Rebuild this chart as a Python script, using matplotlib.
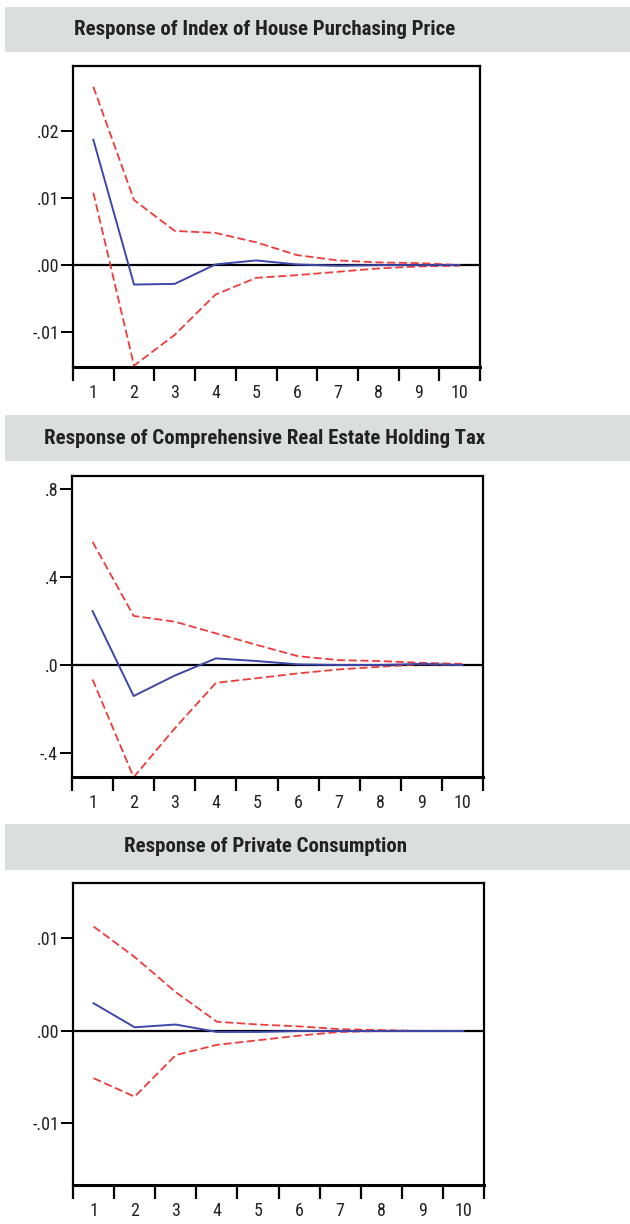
import numpy as np
import matplotlib
matplotlib.use("Agg")
import matplotlib.pyplot as plt
from matplotlib import font_manager
from matplotlib.patches import Rectangle

# pick a condensed face if there is one
names = {f.name for f in font_manager.fontManager.ttflist}
font = "Roboto"
for cand in ["Roboto Condensed", "Liberation Sans Narrow", "Roboto"]:
    if cand in names:
        font = cand
        break
plt.rcParams["font.family"] = [font, "DejaVu Sans"]

periods = [1, 2, 3, 4, 5, 6, 7, 8, 9, 10]

titles = [
    "Response of Index of House Purchasing Price",
    "Response of Comprehensive Real Estate Holding Tax",
    "Response of Private Consumption",
]

# impulse responses with +/- 2 S.E. bands
resp_price = [0.0187, -0.0029, -0.0028, 0.0001, 0.0007, 0.0001, -0.0001, 0.0, 0.0, 0.0]
upper_price = [0.0266, 0.0097, 0.0051, 0.0048, 0.0034, 0.0015, 0.0007, 0.0004, 0.0003, 0.0]
lower_price = [0.0108, -0.0150, -0.0104, -0.0044, -0.0019, -0.0015, -0.0010, -0.0005, -0.0002, -0.0001]

resp_tax = [0.245, -0.141, -0.048, 0.030, 0.018, 0.003, 0.0, 0.0, 0.005, 0.0]
upper_tax = [0.56, 0.223, 0.197, 0.144, 0.091, 0.040, 0.022, 0.018, 0.010, 0.005]
lower_tax = [-0.066, -0.51, -0.288, -0.081, -0.060, -0.038, -0.020, -0.008, 0.003, 0.0]

resp_cons = [0.0030, 0.0004, 0.0007, -0.0001, -0.0001, 0.0, 0.0, 0.0, 0.0, 0.0]
upper_cons = [0.0113, 0.0080, 0.0042, 0.0010, 0.0007, 0.0005, 0.0002, 0.0001, 0.0, 0.0]
lower_cons = [-0.0051, -0.0071, -0.0026, -0.0015, -0.0010, -0.0005, -0.0001, 0.0, 0.0, 0.0]

yticks_price = [-0.01, 0.0, 0.01, 0.02]
ylabels_price = ["-.01", ".00", ".01", ".02"]
yticks_tax = [-0.4, 0.0, 0.4, 0.8]
ylabels_tax = ["-.4", ".0", ".4", ".8"]
yticks_cons = [-0.01, 0.0, 0.01]
ylabels_cons = ["-.01", ".00", ".01"]

panels = [
    (resp_price, upper_price, lower_price, yticks_price, ylabels_price, (-0.0152, 0.0297)),
    (resp_tax, upper_tax, lower_tax, yticks_tax, ylabels_tax, (-0.509, 0.859)),
    (resp_cons, upper_cons, lower_cons, yticks_cons, ylabels_cons, (-0.01665, 0.0160)),
]

W, H = 630, 1224
fig = plt.figure(figsize=(W / 100, H / 100), dpi=100)

# pixel boxes: axes (left, top, right, bottom) and title bar (top, bottom)
ax_boxes = [(73, 66, 480, 367), (72, 476, 483, 777), (73, 883, 484, 1185)]
bar_boxes = [(7, 52), (415, 461), (824, 870)]

blue = "#3d47a8"
red = "#ee3b3b"

for i, (resp, up, lo, yt, yl, ylim) in enumerate(panels):
    l, t, r, b = ax_boxes[i]
    ax = fig.add_axes([l / W, 1 - b / H, (r - l) / W, (b - t) / H])

    x = np.array(periods)
    ax.axhline(0, color="black", lw=1.6, zorder=1)
    ax.plot(x, up, color=red, lw=1.3, ls=(0, (4.5, 2)), zorder=2)
    ax.plot(x, lo, color=red, lw=1.3, ls=(0, (4.5, 2)), zorder=2)
    ax.plot(x, resp, color=blue, lw=1.4, zorder=3)

    ax.set_xlim(0.5, 10.5)
    ax.set_ylim(*ylim)
    ax.set_xticks(periods)
    ax.set_xticklabels([str(p) for p in periods])
    ax.set_xticks(np.arange(0.5, 11, 1.0), minor=True)
    ax.tick_params(axis="x", which="major", length=0, pad=12, labelsize=13, colors="#222222")
    ax.tick_params(axis="x", which="minor", length=10, width=1.6, direction="out", color="black")
    ax.set_yticks(yt)
    ax.set_yticklabels(yl)
    ax.tick_params(axis="y", length=9, width=1.4, direction="out", labelsize=13,
                   colors="#222222", pad=1)
    ax.tick_params(axis="y", which="both", color="black")
    for s in ax.spines.values():
        s.set_linewidth(1.6)
    ax.spines["bottom"].set_linewidth(2.2)

    # gray title bar
    bt, bb = bar_boxes[i]
    fig.patches.append(Rectangle((5 / W, 1 - bb / H), (W - 5) / W, (bb - bt) / H,
                                 transform=fig.transFigure, facecolor="#dcdddd",
                                 edgecolor="none", zorder=0))
    fig.text(265 / W, 1 - (bt + bb) / 2 / H, titles[i], ha="center", va="center",
             fontsize=15, fontweight="bold", color="#222222")

fig.savefig("out.png", dpi=100, facecolor="white")
